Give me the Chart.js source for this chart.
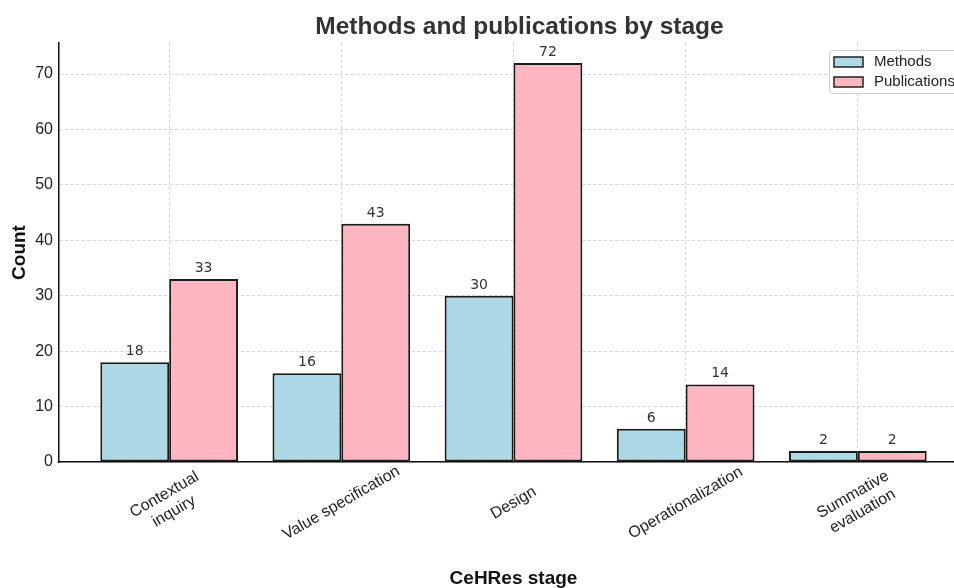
<!DOCTYPE html>
<html lang="en">
<head>
  <meta charset="UTF-8">
  <title>Methods and publications by stage</title>
  <script src="https://cdn.jsdelivr.net/npm/chart.js"></script>
<style>
  html, body {
    margin: 0;
    padding: 0;
    background: #ffffff;
    overflow: hidden;
  }

  #wrap {
    position: absolute;
    left: 0;
    top: 0;
    width: 980px;
    height: 588px;
  }
</style>
</head>
<body>
  <div id="wrap"><canvas id="stageChart"></canvas></div>

<script>
  // data
  const stages = [["Contextual", "inquiry"], ["Value specification"], ["Design"], ["Operationalization"], ["Summative", "evaluation"]];
  const methods = [18, 16, 30, 6, 2];
  const publications = [33, 43, 72, 14, 2];
  const yTicks = [0, 10, 20, 30, 40, 50, 60, 70];

  const sans = "'Liberation Sans', Arial, sans-serif";
  const dejavu = "'DejaVu Sans', sans-serif";

  // value above each bar
  const barLabels = {
    id: "barLabels",
    afterDraw(chart) {
      const ctx = chart.ctx;
      ctx.save();
      ctx.font = "14px " + dejavu;
      ctx.fillStyle = "#333333";
      ctx.textAlign = "center";
      ctx.textBaseline = "alphabetic";
      chart.data.datasets.forEach((ds, i) => {
        chart.getDatasetMeta(i).data.forEach((bar, j) => {
          ctx.fillText(String(ds.data[j].y), bar.x, bar.y - 7);
        });
      });
      ctx.restore();
    }
  };

  // rotated category labels under the groups
  const stageLabels = {
    id: "stageLabels",
    afterDraw(chart) {
      const ctx = chart.ctx;
      const xs = chart.scales.x;
      const cy = chart.chartArea.bottom + 41;
      ctx.save();
      ctx.font = "16px " + sans;
      ctx.fillStyle = "#222222";
      ctx.textAlign = "center";
      ctx.textBaseline = "middle";
      stages.forEach((lines, i) => {
        const px = xs.getPixelForValue(i);
        ctx.save();
        ctx.translate(px, cy);
        ctx.rotate(-Math.PI / 6);
        const lh = 19.2;
        lines.forEach((t, k) => {
          ctx.fillText(t, 0, (k - (lines.length - 1) / 2) * lh);
        });
        ctx.restore();
      });
      ctx.restore();
    }
  };

  // legend box in the upper right of the plot
  const cornerLegend = {
    id: "cornerLegend",
    afterDraw(chart) {
      const ctx = chart.ctx;
      const a = chart.chartArea;
      const x = a.right - 139, y = a.top + 7;
      ctx.save();
      ctx.fillStyle = "rgba(255,255,255,0.8)";
      ctx.strokeStyle = "#cccccc";
      ctx.lineWidth = 1;
      ctx.beginPath();
      ctx.roundRect(x + 0.5, y + 0.5, 150, 43, 3);
      ctx.fill();
      ctx.stroke();
      ctx.font = "15px " + sans;
      ctx.textBaseline = "middle";
      chart.data.datasets.forEach((ds, i) => {
        const ry = y + 7 + i * 20;
        ctx.fillStyle = ds.backgroundColor;
        ctx.fillRect(x + 5, ry, 29, 10);
        ctx.strokeStyle = "#222222";
        ctx.lineWidth = 1.5;
        ctx.strokeRect(x + 5, ry, 29, 10);
        ctx.fillStyle = "#222222";
        ctx.fillText(ds.label, x + 45, ry + 5);
      });
      ctx.restore();
    }
  };

  // shift the title to sit over the plot like the original
  const titlePlace = {
    id: "titlePlace",
    afterLayout(chart) {
      const t = chart.titleBlock;
      const mid = (chart.chartArea.left + chart.chartArea.right) / 2 + 6;
      t.left = mid - 450;
      t.right = mid + 450;
    }
  };

  const gridColor = "rgba(140,140,140,0.42)";

  new Chart(document.getElementById("stageChart"), {
    type: "bar",
    data: {
      datasets: [{
        label: "Methods",
        data: methods.map((v, i) => ({ x: i, y: v })),
        backgroundColor: "#ADD8E6",
        borderColor: "#1a1a1a",
        borderWidth: 2,
        borderSkipped: false
      }, {
        label: "Publications",
        data: publications.map((v, i) => ({ x: i, y: v })),
        backgroundColor: "#FFB6C1",
        borderColor: "#1a1a1a",
        borderWidth: 2,
        borderSkipped: false
      }]
    },
    plugins: [barLabels, stageLabels, cornerLegend, titlePlace],
    options: {
      responsive: true,
      maintainAspectRatio: false,
      animation: false,
      devicePixelRatio: 1,
      layout: { padding: { left: 0, right: 12, top: 0, bottom: 0 } },
      categoryPercentage: 0.8,
      barPercentage: 1.0,
      plugins: {
        legend: { display: false },
        tooltip: { enabled: false },
        title: {
          display: true,
          text: "Methods and publications by stage",
          color: "#333333",
          font: { family: sans, size: 24.5, weight: "bold", lineHeight: 1 },
          padding: { top: 15, bottom: 3.5 }
        }
      },
      scales: {
        x: {
          type: "linear",
          min: -0.64,
          max: 4.64,
          offset: false,
          z: 1,
          afterFit: s => { s.height = 126; },
          ticks: { display: false, stepSize: 1, includeBounds: false },
          grid: { color: gridColor, lineWidth: 0.8, drawTicks: false, offset: false },
          border: { color: "#111111", width: 1.5, dash: [3.5, 2] },
          title: {
            display: true,
            text: "CeHRes stage",
            color: "#111111",
            font: { family: sans, size: 19, weight: "bold", lineHeight: 1 },
            padding: { top: 0, bottom: 0 }
          }
        },
        y: {
          min: 0,
          max: 75.6,
          z: 1,
          afterFit: s => { s.width = 59; },
          afterBuildTicks: s => { s.ticks = yTicks.map(v => ({ value: v })); },
          ticks: {
            stepSize: 10,
            padding: 6,
            color: "#222222",
            font: { family: sans, size: 16 }
          },
          grid: { color: gridColor, lineWidth: 0.8, drawTicks: false },
          border: { color: "#111111", width: 1.5, dash: [3.5, 2] },
          title: {
            display: true,
            text: "Count",
            color: "#111111",
            font: { family: sans, size: 19, weight: "bold", lineHeight: 1 },
            padding: { top: 10.5, bottom: 0 }
          }
        }
      }
    }
  });
</script>
</body>
</html>
